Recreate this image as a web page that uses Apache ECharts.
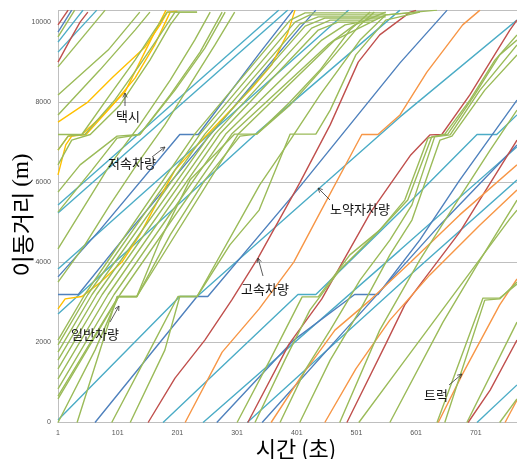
<!DOCTYPE html>
<html><head><meta charset="utf-8">
<script src="https://cdn.jsdelivr.net/npm/echarts@6/dist/echarts.min.js"></script>
<style>html,body{margin:0;padding:0;background:#fff}#c{width:517px;height:459px}</style>
</head><body><div id="c"></div>
<script>
// time (s, axis label = value+1) , distance (m)
const xTicks = [1,101,201,301,401,501,601,701];
const yTicks = [0,2000,4000,6000,8000,10000];

const taxi = [
 [[0,7510],[50,8010],[92,8640],[146,9390],[171,9940],[183,10260],[200,10280]],
 [[0,6810],[17,7160],[40,7200],[70,7610],[112,8260],[137,9010],[157,9610],[181,10310]],
 [[0,6190],[13,6940],[23,7160],[47,7200],[87,7860],[129,8610],[162,9440],[188,10260]],
 [[0,2840],[12,3090],[40,3150],[70,3490],[107,4010],[137,4690],[168,5560],[196,6310],[246,7140],[325,8360],[358,8940],[385,9740],[397,10310]]
];
const lowSpeed = [
 [[0,9760],[23,10310]],
 [[0,3200],[34,3200],[121,4810],[405,9860],[432,10310]],
 [[0,3640],[70,4810],[204,7200],[235,7200],[338,9240],[394,10310]],
 [[62,0],[233,3150],[251,3150],[387,5560],[573,8990],[652,10310]],
 [[266,0],[395,2060],[497,3200],[536,3200],[606,4560],[673,6060],[769,8060]],
 [[342,0],[481,2310],[640,4940],[769,6940]]
];
const elderly = [
 [[0,9510],[42,10310]],
 [[0,9260],[65,10310]],
 [[0,5440],[370,10310]],
 [[0,5240],[385,10310]],
 [[0,3840],[487,10310]],
 [[0,2710],[333,7240],[573,10310]],
 [[0,60],[204,3150],[233,3150],[387,5190],[573,7640],[769,10060]],
 [[176,0],[402,3200],[432,3200],[573,5260],[702,7200],[735,7200],[769,7690]],
 [[243,0],[573,4310],[769,6890]],
 [[317,0],[573,3460],[769,6060]],
 [[702,0],[769,940]]
];
const highSpeed = [
 [[0,9940],[17,10310]],
 [[0,9010],[20,9560],[37,10010],[50,10260]],
 [[151,0],[196,1110],[246,2060],[291,3060],[335,4110],[405,5990],[456,7440],[503,9010],[539,9690],[590,10260],[600,10300]],
 [[318,0],[387,1960],[442,3090],[524,5260],[591,6690],[623,7190],[643,7200],[690,8190],[757,9810],[769,10060]],
 [[484,0],[549,1960],[581,2940],[673,4760],[769,7060]],
 [[687,0],[724,810],[769,2060]]
];
const truck = [
 [[213,0],[275,1760],[337,2840],[395,4010],[437,5190],[509,7200],[536,7200],[573,7690],[618,8760],[678,9940],[707,10310]],
 [[357,0],[407,1140],[464,2310],[523,3060],[591,4010],[673,5190],[769,6440]],
 [[447,0],[499,1340],[556,2560],[623,3690],[707,4940],[769,5810]],
 [[637,0],[677,1190],[740,2940],[769,3590]],
 [[749,0],[769,560]]
];
const general = [
 [[0,9640],[28,10310]],
 [[0,8890],[79,10310]],
 [[0,8190],[84,9310],[137,10260]],
 [[0,7690],[70,8810],[129,9810],[154,10260]],
 [[0,7200],[40,7200],[87,8190],[129,9060],[162,9810],[183,10260],[233,10260]],
 [[0,6810],[17,7160],[45,7200],[95,8060],[137,8940],[171,9690],[196,10260],[233,10260]],
 [[0,6440],[23,7060],[54,7200],[104,7940],[154,9060],[188,9940],[204,10260]],
 [[0,5760],[37,6440],[99,7160],[137,7200],[188,8190],[238,9260],[275,10260]],
 [[0,5260],[57,6310],[99,7110],[137,7200],[196,8310],[246,9360],[280,10260]],
 [[0,4340],[87,6440],[137,7440],[188,8560],[229,9560],[255,10260]],
 [[0,3510],[45,4440],[87,5440],[137,6560],[179,7440],[221,8440],[263,9440],[296,10260]],
 [[0,2060],[45,3200],[229,7210],[389,10060],[414,10240],[549,10240]],
 [[0,1940],[50,3200],[238,7210],[397,10010],[422,10190],[549,10190]],
 [[0,1760],[57,3200],[246,7210],[405,9960],[436,10140],[549,10140]],
 [[0,1560],[65,3200],[255,7210],[414,9910],[447,10110],[539,10110]],
 [[0,1340],[74,3200],[263,7210],[425,9860],[456,10060],[531,10060]],
 [[0,1090],[84,3200],[271,7210],[436,9810],[469,10010],[523,10010]],
 [[0,840],[94,3200],[281,7210],[442,9560],[481,9940],[506,10010]],
 [[0,590],[104,3200],[291,7210],[452,9440],[497,9940],[549,10260]],
 [[0,660],[101,3150],[132,3150],[302,7210],[464,9560],[549,10190],[606,10260]],
 [[90,0],[154,1810],[201,3150],[233,3150],[288,4440],[337,5310],[389,7210],[432,7210],[456,7810],[499,9190],[549,10060],[606,10260]],
 [[121,0],[179,1810],[204,3150],[233,3150],[305,5060],[338,5940],[389,7060],[439,8190],[506,9560],[549,10190],[635,10310]],
 [[32,0],[99,3150],[132,3150],[171,4560],[221,6060],[296,7210],[333,7210],[387,7990],[439,8810],[489,9810],[523,10260]],
 [[0,0],[62,1810],[101,3140],[132,3140],[188,4690],[246,6060],[305,7160],[333,7210],[389,7940],[456,9060],[506,9940],[530,10260]],
 [[300,0],[355,1560],[409,3140],[436,3140],[489,4190],[539,4810],[581,5560],[620,7110],[648,7210],[690,8060],[732,9060],[769,9690]],
 [[330,0],[380,1560],[422,2810],[472,3810],[531,4690],[586,5560],[626,7140],[653,7210],[698,8190],[740,9190],[769,9560]],
 [[372,0],[414,1310],[456,2310],[506,3560],[556,4560],[593,5440],[631,7140],[657,7190],[707,8310],[769,9440]],
 [[405,0],[456,1560],[506,2810],[556,4190],[593,5060],[640,7060],[660,7160],[715,8310],[769,9190]],
 [[504,0],[573,1390],[757,5090],[769,5310]],
 [[556,0],[645,2510],[707,4060],[769,5560]],
 [[635,0],[712,3110],[740,3110],[769,3460]],
 [[648,0],[715,3060],[740,3090],[769,3510]],
 [[685,0],[769,2510]],
 [[740,0],[769,590]],
 [[472,0],[539,2310],[606,4060],[657,5260],[724,6810],[769,7810]]
];

const groups = [
 {color:'#4BACC6', data:elderly},
 {color:'#4F81BD', data:lowSpeed},
 {color:'#C0504D', data:highSpeed},
 {color:'#F79646', data:truck},
 {color:'#FFC000', data:taxi},
 {color:'#9BBB59', data:general}
];
const series = [];
groups.forEach(g => g.data.forEach(tr => series.push({
  type:'line', data:tr, showSymbol:false, symbol:'none', clip:true,
  lineStyle:{color:g.color, width:1.4}, itemStyle:{color:g.color}, silent:true
})));

// annotations: [text, textX, textY, arrowFromX, arrowFromY, arrowToX, arrowToY]
const notes = [
 ['택시',128,116,125,106,125,93],
 ['저속차량',132,163,152,157,165,147],
 ['노약자차량',360,209,330,200,318,188],
 ['고속차량',265,289,263,276,258,258],
 ['일반차량',95,334,110,322,119,306],
 ['트럭',436,395,449,385,462,374]
];
const graphic = [];
notes.forEach(n => {
  graphic.push({type:'text', position:[n[1],n[2]], style:{text:n[0], x:0, y:0, font:'13px "Noto Sans CJK KR"', fill:'#111', align:'center', verticalAlign:'middle'}, z:100});
  const [x1,y1,x2,y2] = [n[3],n[4],n[5],n[6]];
  const a = Math.atan2(y2-y1,x2-x1), L=5, w=0.45;
  graphic.push({type:'line', shape:{x1,y1,x2,y2}, style:{stroke:'#333', lineWidth:0.8}, z:100});
  graphic.push({type:'polyline', shape:{points:[[x2-L*Math.cos(a-w),y2-L*Math.sin(a-w)],[x2,y2],[x2-L*Math.cos(a+w),y2-L*Math.sin(a+w)]]}, style:{stroke:'#333', lineWidth:0.8, fill:null}, z:100});
});

const chart = echarts.init(document.getElementById('c'), null, {renderer:'canvas'});
chart.setOption({
  animation:false,
  grid:{left:58, right:0, top:10.5, bottom:36.5, containLabel:false},
  xAxis:{type:'value', min:0, max:769, interval:100,
    axisLine:{show:true, lineStyle:{color:'#BFBFBF'}}, axisTick:{show:false},
    splitLine:{show:false},
    axisLabel:{fontSize:7, color:'#555', margin:7, fontFamily:'Liberation Sans', showMaxLabel:false, formatter:v=>String(v+1)}},
  yAxis:{type:'value', min:0, max:10300, interval:2000,
    axisLine:{show:true, lineStyle:{color:'#BFBFBF'}}, axisTick:{show:false},
    splitLine:{show:true, lineStyle:{color:'#BFBFBF', width:1}},
    axisLabel:{fontSize:7, color:'#555', margin:7, fontFamily:'Liberation Sans', showMaxLabel:false, formatter:v=>String(v)}},
  series,
  graphic:[
    ...graphic,
    {type:'text', position:[22,215], rotation:Math.PI/2, style:{text:'이동거리 {s|(m)}', font:'23px "Noto Sans CJK KR"', fill:'#000', align:'center', verticalAlign:'middle',
      rich:{s:{font:'23px "Liberation Serif"', fill:'#000'}}}},
    {type:'text', position:[296,449], style:{text:'시간 (초)', font:'22px "Noto Sans CJK KR"', fill:'#000', align:'center', verticalAlign:'middle'}}
  ]
});
</script></body></html>
